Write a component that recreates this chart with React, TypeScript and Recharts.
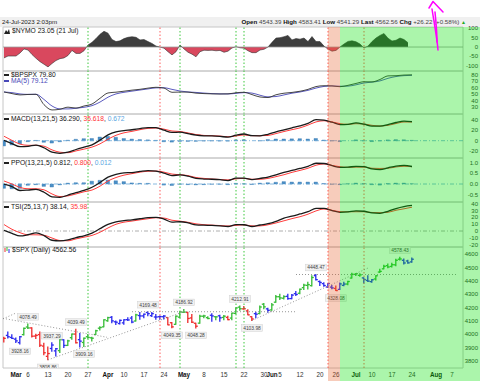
import React from 'react';
import {
  ComposedChart,
  Line,
  Area,
  Bar,
  Scatter,
  XAxis,
  YAxis,
  ReferenceLine,
  ReferenceArea,
} from 'recharts';

const FONT = '"Liberation Sans", Arial, sans-serif';
const W = 480;

// x is the trading-session index, 0 = 1 Mar 2023 (holidays skipped)
const X_MIN = -3.25;
const X_MAX = 111.75;
const PLOT_LEFT = 3;
const PLOT_W = 460;

const X_TICKS = [0, 3, 8, 13, 18, 23, 27, 32, 37, 42, 47, 52, 57, 62, 64, 66, 71, 76, 80, 85, 89, 94, 99, 105, 109];
const X_LABELS = ['Mar', '6', '13', '20', '27', 'Apr', '10', '17', '24', 'May', '8', '15', '22', '30', 'Jun', '5', '12', '20', '26', 'Jul', '10', '17', '24', 'Aug', '7'];
const MONTHS = ['Mar', 'Apr', 'May', 'Jun', 'Jul', 'Aug'];

// $NYMO, one value per session from index -3
const NYMO_START = -3;
const NYMO = [
  -58, -48, -48, -48, -32, -10, -16, -40, -60, -78,
  -92, -106, -88, -72, -62, -58, -45, -18, -34, -34,
  -20, 11, 25, 45, 68, 84, 74, 40, 29, 33,
  45, 52, 55, 52, 38, 40, 29, 19, 5, 0,
  -6, -25, -42, -25, 11, -10, -28, -38, -52, -25,
  -17, -18, -17, -20, -18, -28, -22, -5, 2, -4,
  -6, -20, -30, -30, -16, -12, 0, 25, 48, 50,
  55, 62, 38, 45, 42, 48, 29, 56, 29, 29,
  5, -11, -22, -18, 0, 16, 30, 33, 28, 16,
  -5, 5, 29, 48, 62, 72, 47, 32, 36, 48,
  40, 23,
];

// indicators, read every 2nd session from index -3
const IND_START = -3;
const IND_STEP = 2;
const BPSPX = [
  53.5, 51, 49, 49.7, 49.9, 34, 25.9, 27, 30.2, 28.8,
  32, 35, 43.8, 52, 53.2, 54.7, 56.3, 57.6, 59.4, 60.7,
  59.5, 53, 53.4, 53.3, 51.7, 51, 50.6, 50.4, 50.6, 52.3,
  53, 49.5, 45.8, 45, 49.2, 51.6, 52.8, 54.6, 57.5, 61.8,
  63.1, 62.8, 61.6, 63.7, 66.6, 69.2, 69, 72.7, 78.2, 78.5,
  79.5, 79.8,
];
const BPSPX_MA = [
  53.5, 52.5, 50.5, 49.8, 50, 42, 32, 27.5, 27.5, 28.5,
  30, 32.5, 38, 45.5, 50.5, 53, 54.8, 56.5, 58.2, 59.8,
  60, 57.5, 55, 53.5, 52.8, 51.8, 51, 50.6, 50.5, 51.4,
  52.5, 51.8, 48.5, 46, 46.5, 49, 51.6, 53.5, 56, 59.5,
  62, 62.8, 62.3, 62.5, 64.5, 67.3, 68.6, 70.5, 74.5, 77.2,
  78.6, 79.1,
];
const MACD = [
  0.5, -5.5, -11.3, -10.7, -8.3, -13.5, -22, -24, -22, -16.8,
  -12.3, -8, 1, 11, 16.8, 19.1, 20.9, 23.2, 25.1, 24.9,
  20, 15.8, 16.2, 13.5, 10.5, 9.3, 9, 8.1, 6.8, 10.5,
  12.8, 9.5, 9.2, 12.2, 16.8, 20.7, 24.5, 28.3, 33, 40,
  39.2, 35.3, 30.8, 31.2, 34, 31.5, 27.6, 27.6, 30.8, 34.7,
  37.3, 36.3,
];
const MACD_SIG = [
  8.5, 0.5, -6.5, -8.8, -8.8, -10.5, -17.5, -22, -22.9, -19.5,
  -16.1, -12.2, -6, 2.8, 10.3, 15, 17.8, 21, 23.5, 24.2,
  22, 18.5, 17.5, 14.8, 11.7, 10, 9.5, 8.8, 7.6, 9,
  11, 9.5, 9.5, 10, 13.6, 17.5, 21, 24.5, 29.8, 35.8,
  38, 35.9, 32.5, 31.2, 32.4, 31.8, 29.3, 28, 29.3, 32.7,
  35.6, 35.6,
];
const MACD_HIST = [
  -10, -8, -6, -1.9, 0.5, -3, -4.5, -2, 0.9, 2.7,
  3.8, 4.2, 7, 8.2, 6.5, 4.1, 3.1, 2.2, 1.6, 0.7,
  -2, -2.7, -1.3, -1.3, -1.2, -0.7, -0.5, -0.7, -0.8, 1.5,
  1.8, 0, -0.3, 2.2, 3.2, 3.2, 3.5, 3.8, 3.2, 4.2,
  1.2, -0.6, -1.7, 0, 1.6, -0.3, -1.7, -0.4, 1.5, 2,
  1.7, 0.7,
];
const PPO = [
  -0.01, -0.12, -0.3, -0.28, -0.25, -0.38, -0.6, -0.62, -0.51, -0.4,
  -0.3, -0.15, 0.07, 0.32, 0.45, 0.52, 0.53, 0.58, 0.62, 0.6,
  0.5, 0.39, 0.42, 0.36, 0.26, 0.23, 0.22, 0.2, 0.16, 0.27,
  0.27, 0.2, 0.26, 0.32, 0.42, 0.54, 0.63, 0.72, 0.82, 0.96,
  0.95, 0.85, 0.77, 0.78, 0.82, 0.8, 0.7, 0.67, 0.75, 0.83,
  0.86, 0.81,
];
const PPO_SIG = [
  0.14, 0, -0.16, -0.22, -0.22, -0.27, -0.46, -0.58, -0.55, -0.46,
  -0.36, -0.28, -0.1, 0.14, 0.3, 0.41, 0.48, 0.55, 0.59, 0.6,
  0.55, 0.46, 0.43, 0.39, 0.3, 0.26, 0.23, 0.21, 0.19, 0.24,
  0.26, 0.22, 0.22, 0.26, 0.34, 0.43, 0.54, 0.63, 0.73, 0.87,
  0.93, 0.86, 0.8, 0.77, 0.78, 0.78, 0.73, 0.72, 0.73, 0.79,
  0.82, 0.8,
];
const PPO_HIST = [
  -0.2, -0.22, -0.2, -0.06, -0.03, -0.11, -0.14, -0.04, 0.04, 0.06,
  0.06, 0.13, 0.17, 0.18, 0.15, 0.11, 0.05, 0.03, 0.03, 0,
  -0.05, -0.07, -0.01, -0.03, -0.04, -0.03, -0.01, -0.01, -0.03, 0.03,
  0.01, -0.02, 0.04, 0.06, 0.08, 0.11, 0.09, 0.09, 0.09, 0.09,
  0.02, -0.01, -0.03, 0.01, 0.04, 0.02, -0.03, -0.05, 0.02, 0.04,
  0.04, 0.01,
];
const TSI = [
  1, -3.4, -7.2, -5.5, -2.7, -6.7, -13.6, -14.6, -13, -9.6,
  -7, -3, 3.4, 9.8, 13.5, 15.2, 16.4, 18, 19.7, 20.1,
  17.5, 13, 13.6, 12, 9, 8.5, 8.2, 7.5, 6.6, 9.3,
  9.2, 6.6, 8.8, 10.7, 14.2, 18.9, 21.7, 25, 28.4, 33.2,
  33.2, 30, 27.5, 28, 29.5, 29, 26.5, 26, 29, 33,
  35.8, 37.5,
];
const TSI_SIG = [
  9.5, 2.5, -2.5, -5.5, -5.6, -6.3, -10.3, -14, -14.4, -11.6,
  -9.1, -6.5, -1.8, 4.5, 9.9, 13, 14.6, 16.4, 18, 19.5,
  19, 15.8, 14.5, 12.8, 10.5, 9.2, 8.6, 8, 7.3, 8.3,
  9, 7.5, 7.5, 9.1, 11.8, 15, 18.2, 21, 24.7, 29.5,
  32.3, 30.4, 28.4, 28.2, 28.3, 28.3, 27.2, 26.9, 27.5, 30.5,
  32.6, 35,
];

// $SPX daily [open, high, low, close] from index -3 (24 Feb)
const SPX_START = -3;
const SPX_OHLC = [
  [3973, 3978, 3943, 3970], [3992, 4018, 3973, 3982], [3977, 3997, 3968, 3970], [3964, 3972, 3939, 3951],
  [3938, 3984, 3928, 3982], [3998, 4048, 3995, 4045], [4055, 4078, 4044, 4048], [4048, 4050, 3980, 3986],
  [3987, 4000, 3969, 3992], [3998, 4017, 3909, 3918], [3912, 3934, 3847, 3862], [3835, 3906, 3809, 3856],
  [3894, 3937, 3874, 3920], [3876, 3894, 3838, 3892], [3878, 3964, 3864, 3960], [3959, 3959, 3901, 3917],
  [3917, 3956, 3916, 3951], [3975, 4003, 3964, 4002], [4002, 4039, 3936, 3937], [3960, 4007, 3906, 3949],
  [3939, 3973, 3909, 3971], [3982, 3999, 3970, 3977], [3974, 3979, 3951, 3971], [3999, 4030, 3999, 4027],
  [4046, 4057, 4033, 4051], [4056, 4110, 4056, 4109], [4102, 4128, 4098, 4125], [4128, 4134, 4086, 4101],
  [4094, 4100, 4074, 4091], [4081, 4108, 4077, 4105], [4086, 4110, 4076, 4109], [4110, 4124, 4103, 4108],
  [4122, 4134, 4086, 4092], [4100, 4150, 4100, 4146], [4141, 4164, 4114, 4138], [4138, 4152, 4124, 4151],
  [4164, 4169, 4140, 4155], [4140, 4163, 4134, 4155], [4130, 4148, 4114, 4130], [4132, 4138, 4113, 4133],
  [4132, 4142, 4115, 4137], [4126, 4126, 4072, 4071], [4087, 4089, 4049, 4056], [4075, 4138, 4075, 4136],
  [4129, 4170, 4127, 4169], [4166, 4187, 4164, 4167], [4164, 4165, 4089, 4119], [4123, 4148, 4088, 4091],
  [4083, 4083, 4048, 4061], [4084, 4143, 4084, 4136], [4136, 4143, 4124, 4138], [4125, 4131, 4116, 4119],
  [4143, 4154, 4098, 4138], [4132, 4132, 4109, 4131], [4139, 4143, 4099, 4124], [4127, 4141, 4110, 4136],
  [4127, 4136, 4109, 4110], [4122, 4159, 4109, 4159], [4157, 4198, 4154, 4198], [4204, 4213, 4180, 4192],
  [4191, 4209, 4188, 4192], [4176, 4185, 4146, 4146], [4132, 4132, 4104, 4115], [4155, 4166, 4124, 4151],
  [4156, 4213, 4155, 4205], [4226, 4231, 4192, 4206], [4191, 4195, 4166, 4180], [4183, 4232, 4181, 4221],
  [4241, 4291, 4241, 4282], [4282, 4300, 4262, 4273], [4271, 4289, 4264, 4283], [4285, 4300, 4263, 4268],
  [4268, 4299, 4266, 4294], [4305, 4322, 4291, 4299], [4308, 4340, 4304, 4338], [4350, 4375, 4337, 4369],
  [4367, 4391, 4340, 4373], [4365, 4439, 4363, 4426], [4440, 4448, 4407, 4410], [4396, 4400, 4367, 4389],
  [4380, 4387, 4360, 4366], [4355, 4382, 4351, 4381], [4354, 4366, 4341, 4348], [4344, 4363, 4328, 4328],
  [4337, 4385, 4336, 4378], [4367, 4390, 4365, 4377], [4377, 4398, 4372, 4396], [4422, 4458, 4422, 4450],
  [4450, 4456, 4442, 4455], [4442, 4454, 4436, 4446], [4423, 4423, 4385, 4411], [4404, 4440, 4397, 4399],
  [4395, 4412, 4390, 4409], [4415, 4440, 4408, 4439], [4467, 4488, 4463, 4472], [4491, 4517, 4491, 4510],
  [4515, 4528, 4499, 4505], [4509, 4532, 4504, 4522], [4521, 4563, 4514, 4555], [4563, 4578, 4557, 4565],
  [4555, 4565, 4527, 4535], [4550, 4556, 4532, 4536], [4543, 4572, 4541, 4563],
];
// impulse colour per bar: g = green, r = red, b = blue
const IMPULSE =
  'rbbbbggrrr' + 'rrbbgbggrb' + 'gggggggbbb' + 'bbbgbbbbbb' + 'brrgggrrrg' +
  'ggbgbgrggg' + 'rrrbggbggg' + 'gbbbggggbb' + 'bbbrbbgggg' + 'bbbggggggg' + 'bbb';

const PRICE_MARKS = [
  { i: 3, p: 4078.49, up: true }, { i: 1, p: 3928.16, up: false }, { i: 8, p: 3808.86, up: false },
  { i: 9, p: 3937.29, up: true }, { i: 15, p: 4039.49, up: true }, { i: 17, p: 3909.16, up: false },
  { i: 33, p: 4169.48, up: true }, { i: 39, p: 4049.35, up: false }, { i: 42, p: 4186.92, up: true },
  { i: 45, p: 4048.28, up: false }, { i: 56, p: 4212.91, up: true }, { i: 59, p: 4103.98, up: false },
  { i: 75, p: 4448.47, up: true }, { i: 80, p: 4328.08, up: false }, { i: 96, p: 4578.43, up: true },
];

// dotted trend lines [x1, y1, x2, y2]
const TREND_LINES = [
  [-3.25, 4120, 22.75, 3978],
  [-3.25, 4116, 0, 4160],
  [8, 3808.86, 42, 4170],
  [59, 4104, 88, 4497],
  [29, 4169.48, 70, 4169.48],
  [70, 4448.47, 110, 4448.47],
];

const VLINES = [
  { i: 18, c: 'g' }, { i: 36, c: 'r' }, { i: 41, c: 'g' }, { i: 55, c: 'g' },
  { i: 57, c: 'g' }, { i: 78, c: 'r' }, { i: 87, c: 'r' },
];
const WARN_FROM = 78;
const GO_FROM = 81;

const BAR_COLORS: Record<string, string> = { g: '#33bb33', r: '#ee2a2a', b: '#2828ee' };
const VLINE_COLORS: Record<string, string> = { g: '#3cc83c', r: '#ff5c5c' };

const nymoData = NYMO.map((v, k) => ({ i: NYMO_START + k, v }));
const indData = BPSPX.map((_, k) => ({
  i: IND_START + k * IND_STEP,
  bp: BPSPX[k],
  ma: BPSPX_MA[k],
  macd: MACD[k],
  sig: MACD_SIG[k],
  hist: MACD_HIST[k],
  ppo: PPO[k],
  psig: PPO_SIG[k],
  phist: PPO_HIST[k],
  tsi: TSI[k],
  tsig: TSI_SIG[k],
}));
const spxData = SPX_OHLC.map(([o, h, l, c], k) => ({
  i: SPX_START + k, o, h, l, c, range: [l, h], col: IMPULSE[k],
}));

const nymoMax = Math.max(...NYMO);
const nymoMin = Math.min(...NYMO);
const nymoSplit = nymoMax / (nymoMax - nymoMin);

const xPx = (i: number) => PLOT_LEFT + ((i - X_MIN) / (X_MAX - X_MIN)) * PLOT_W;

const xAxis = () => (
  <XAxis key="x" type="number" dataKey="i" domain={[X_MIN, X_MAX]} allowDataOverflow hide />
);

const yAxis = (domain: number[], ticks: number[], fmt = (v: number) => String(v)) => (
  <YAxis
    key="y"
    orientation="right"
    width={17}
    domain={domain}
    ticks={ticks}
    interval={0}
    allowDataOverflow
    axisLine={false}
    tickLine={false}
    tickSize={0}
    tickMargin={0}
    tick={(p: any) => (
      <text x={p.x + 15} y={p.y} dy={2.1} textAnchor="end" fontSize={6} fontFamily={FONT} fill="#333">
        {fmt(p.payload.value)}
      </text>
    )}
  />
);

const border = (domain: number[]) => (
  <ReferenceArea
    key="border"
    x1={X_MIN}
    x2={X_MAX}
    y1={domain[0]}
    y2={domain[1]}
    fill="none"
    stroke="#c6c6c6"
    strokeWidth={1}
    ifOverflow="visible"
  />
);

const markerLines = () =>
  VLINES.map((v, k) => (
    <ReferenceLine
      key={'vl' + k}
      x={v.i}
      stroke={VLINE_COLORS[v.c]}
      strokeDasharray="1.5 2"
      strokeWidth={1}
      ifOverflow="visible"
    />
  ));

const OhlcBar = (props: any) => {
  const { x, y, width, height, payload } = props;
  if (x == null || y == null) return null;
  const top = Math.min(y, y + height);
  const h = Math.abs(height);
  const span = payload.h - payload.l || 1;
  const yo = top + ((payload.h - payload.o) / span) * h;
  const yc = top + ((payload.h - payload.c) / span) * h;
  const cx = x + width / 2;
  return (
    <g stroke={BAR_COLORS[payload.col]} strokeWidth={1.3}>
      <line x1={cx} x2={cx} y1={top - 0.5} y2={top + h + 0.5} />
      <line x1={cx - 2} x2={cx} y1={yo} y2={yo} />
      <line x1={cx} x2={cx + 2} y1={yc} y2={yc} />
    </g>
  );
};

const PriceTag = (props: any) => {
  const { cx, cy, payload } = props;
  if (cx == null || cy == null) return null;
  const text = payload.p.toFixed(2);
  const w = text.length * 2.55 + 3;
  const cyy = payload.up ? cy - 7 : cy + 7.5;
  return (
    <g>
      <rect x={cx - w / 2} y={cyy - 3.3} width={w} height={6.6} fill="#f1f1f1" stroke="#cfcfcf" strokeWidth={0.5} />
      <text x={cx} y={cyy + 1.8} textAnchor="middle" fontSize={4.9} fontFamily={FONT} fill="#444">
        {text}
      </text>
    </g>
  );
};

const Dash = ({ color }: { color: string }) => (
  <span style={{ display: 'inline-block', width: 5, height: 1.5, background: color, verticalAlign: 'middle', marginRight: 2 }} />
);

const legendStyle = (top: number): React.CSSProperties => ({
  position: 'absolute',
  left: 4,
  top,
  fontSize: 6.7,
  lineHeight: '8px',
  whiteSpace: 'nowrap',
  color: '#111',
});

const P1 = [-128, 107];
const P2 = [19.7, 85.7];
const P3 = [-33, 50.9];
const P4 = [-0.833, 1.204];
const P5 = [-23.5, 42.6];
const P6 = [3747.7, 4654.7];

const margin = { top: 0, right: 0, bottom: 0, left: PLOT_LEFT };

export default function App() {
  return (
    <div style={{ position: 'relative', width: W, height: 381, overflow: 'hidden', background: '#fff', fontFamily: FONT }}>
      <style>{'body{margin:0} .recharts-surface{overflow:visible}'}</style>

      {/* header */}
      <div style={{ position: 'absolute', left: 0, top: 17, width: W, height: 10, background: '#f0f0f0' }} />
      <div style={{ position: 'absolute', left: 2, top: 18, fontSize: 6.2, lineHeight: '8px', color: '#222' }}>
        24-Jul-2023 2:03pm
      </div>
      <div style={{ position: 'absolute', right: 14, top: 18, fontSize: 6.2, lineHeight: '8px', color: '#444', whiteSpace: 'nowrap' }}>
        <b style={{ color: '#111' }}>Open</b> 4543.39 <b style={{ color: '#111' }}>High</b> 4583.41{' '}
        <b style={{ color: '#111' }}>Low</b> 4541.29 <b style={{ color: '#111' }}>Last</b> 4562.56{' '}
        <b style={{ color: '#111' }}>Chg</b> +26.22 (+0.58%) <span style={{ color: '#22aa22', fontSize: 5 }}>▲</span>
      </div>

      {/* $NYMO */}
      <div style={{ position: 'absolute', left: 0, top: 27 }}>
        <ComposedChart width={W} height={44} data={nymoData} margin={margin}>
          <defs>
            <linearGradient id="nymoFill" x1="0" y1="0" x2="0" y2="1">
              <stop offset={nymoSplit} stopColor="#3e3e3e" />
              <stop offset={nymoSplit} stopColor="#d9485e" />
            </linearGradient>
          </defs>
          {xAxis()}
          {yAxis(P1, [100, 50, 0, -50, -100])}
          {border(P1)}
          <Area
            dataKey="v"
            type="linear"
            baseValue={0}
            stroke="#333"
            strokeWidth={0.6}
            fill="url(#nymoFill)"
            fillOpacity={1}
            isAnimationActive={false}
            dot={false}
            activeDot={false}
          />
          <ReferenceLine y={0} stroke="#9a9a9a" strokeWidth={0.8} />
          {markerLines()}
        </ComposedChart>
      </div>

      {/* $BPSPX */}
      <div style={{ position: 'absolute', left: 0, top: 71 }}>
        <ComposedChart width={W} height={43} data={indData} margin={margin}>
          {xAxis()}
          {yAxis(P2, [80, 70, 60, 50, 40, 30])}
          {border(P2)}
          {markerLines()}
          <Line dataKey="ma" type="monotone" stroke="#4848b8" strokeWidth={0.9} dot={false} isAnimationActive={false} />
          <Line dataKey="bp" type="monotone" stroke="#333" strokeWidth={0.9} dot={false} isAnimationActive={false} />
        </ComposedChart>
      </div>

      {/* MACD */}
      <div style={{ position: 'absolute', left: 0, top: 114 }}>
        <ComposedChart width={W} height={44} data={indData} margin={margin}>
          {xAxis()}
          {yAxis(P3, [40, 20, 0, -20])}
          {border(P3)}
          {markerLines()}
          <ReferenceLine y={0} stroke="#6aa8d8" strokeDasharray="4 2 1 2" strokeWidth={0.8} />
          <Bar dataKey="hist" barSize={3.5} fill="#4b8fc6" stroke="#3a7cb4" strokeWidth={0.4} isAnimationActive={false} />
          <Line dataKey="sig" type="monotone" stroke="#ff3d3d" strokeWidth={1} dot={false} isAnimationActive={false} />
          <Line dataKey="macd" type="monotone" stroke="#1a1a1a" strokeWidth={1.3} dot={false} isAnimationActive={false} />
        </ComposedChart>
      </div>

      {/* PPO */}
      <div style={{ position: 'absolute', left: 0, top: 158 }}>
        <ComposedChart width={W} height={44} data={indData} margin={margin}>
          {xAxis()}
          {yAxis(P4, [1, 0.5, 0, -0.5], (v) => v.toFixed(1))}
          {border(P4)}
          {markerLines()}
          <ReferenceLine y={0} stroke="#6aa8d8" strokeDasharray="4 2 1 2" strokeWidth={0.8} />
          <Bar dataKey="phist" barSize={3.5} fill="#4b8fc6" stroke="#3a7cb4" strokeWidth={0.4} isAnimationActive={false} />
          <Line dataKey="psig" type="monotone" stroke="#ff3d3d" strokeWidth={1} dot={false} isAnimationActive={false} />
          <Line dataKey="ppo" type="monotone" stroke="#1a1a1a" strokeWidth={1.3} dot={false} isAnimationActive={false} />
        </ComposedChart>
      </div>

      {/* TSI */}
      <div style={{ position: 'absolute', left: 0, top: 202 }}>
        <ComposedChart width={W} height={45} data={indData} margin={margin}>
          {xAxis()}
          {yAxis(P5, [40, 30, 20, 10, 0, -10, -20])}
          {border(P5)}
          {markerLines()}
          <ReferenceLine y={0} stroke="#999" strokeDasharray="4 2 1 2" strokeWidth={0.8} />
          <Line dataKey="tsig" type="monotone" stroke="#ff3d3d" strokeWidth={1} dot={false} isAnimationActive={false} />
          <Line dataKey="tsi" type="monotone" stroke="#1a1a1a" strokeWidth={1.3} dot={false} isAnimationActive={false} />
        </ComposedChart>
      </div>

      {/* $SPX */}
      <div style={{ position: 'absolute', left: 0, top: 247 }}>
        <ComposedChart width={W} height={134} data={spxData} margin={margin}>
          <XAxis
            type="number"
            dataKey="i"
            domain={[X_MIN, X_MAX]}
            allowDataOverflow
            ticks={X_TICKS}
            interval={0}
            height={13}
            axisLine={false}
            tickLine={false}
            tickSize={0}
            tickMargin={0}
            tick={(p: any) => {
              const label = X_LABELS[X_TICKS.indexOf(p.payload.value)];
              const isMonth = MONTHS.includes(label);
              return (
                <text
                  x={p.x}
                  y={p.y}
                  dy={9}
                  textAnchor="middle"
                  fontSize={6.3}
                  fontFamily={FONT}
                  fontWeight={isMonth ? 'bold' : 'normal'}
                  fill={isMonth ? '#111' : '#333'}
                >
                  {label}
                </text>
              );
            }}
          />
          {yAxis(P6, [4600, 4500, 4400, 4300, 4200, 4100, 4000, 3900, 3800])}
          {border(P6)}
          {markerLines()}
          {TREND_LINES.map(([x1, y1, x2, y2], k) => (
            <ReferenceLine
              key={'tl' + k}
              segment={[{ x: x1, y: y1 }, { x: x2, y: y2 }]}
              stroke="#8a8a8a"
              strokeDasharray="1 2"
              strokeWidth={0.9}
              ifOverflow="visible"
            />
          ))}
          <Bar dataKey="range" barSize={4} shape={OhlcBar} isAnimationActive={false} />
          <Scatter data={PRICE_MARKS} dataKey="p" shape={PriceTag} isAnimationActive={false} />
        </ComposedChart>
      </div>

      {/* panel legends */}
      <div style={legendStyle(27)}>
        <svg width={6} height={5} style={{ marginRight: 2, verticalAlign: 'middle' }}>
          <polygon points="0,5 2,1 3.5,3 5,0 6,5" fill="#222" />
        </svg>
        $NYMO 23.05 (21 Jul)
      </div>
      <div style={legendStyle(71)}>
        <Dash color="#222" />$BPSPX 79.80
      </div>
      <div style={{ ...legendStyle(77), color: '#4848b8' }}>
        <Dash color="#4848b8" />MA(5) 79.12
      </div>
      <div style={legendStyle(115)}>
        <Dash color="#222" />MACD(13,21,5) 36.290, <span style={{ color: '#ff3333' }}>35.618</span>,{' '}
        <span style={{ color: '#5aa6e2' }}>0.672</span>
      </div>
      <div style={legendStyle(159)}>
        <Dash color="#222" />PPO(13,21,5) 0.812, <span style={{ color: '#ff3333' }}>0.800</span>,{' '}
        <span style={{ color: '#5aa6e2' }}>0.012</span>
      </div>
      <div style={legendStyle(203)}>
        <Dash color="#222" />TSI(25,13,7) 38.14, <span style={{ color: '#ff3333' }}>35.98</span>
      </div>
      <div style={legendStyle(246)}>
        <svg width={6} height={6} style={{ marginRight: 2, verticalAlign: 'middle' }}>
          <line x1={1} x2={1} y1={1} y2={5} stroke="#ee2a2a" />
          <line x1={3} x2={3} y1={0} y2={4} stroke="#33bb33" />
          <line x1={5} x2={5} y1={2} y2={6} stroke="#2828ee" />
        </svg>
        $SPX (Daily) 4562.56
      </div>

      {/* highlighted periods */}
      <div
        style={{
          position: 'absolute', top: 27, bottom: 0, left: xPx(WARN_FROM), width: xPx(GO_FROM) - xPx(WARN_FROM),
          background: 'rgba(230, 95, 45, 0.32)', pointerEvents: 'none',
        }}
      />
      <div
        style={{
          position: 'absolute', top: 27, bottom: 0, left: xPx(GO_FROM), right: 0,
          background: 'rgba(0, 225, 0, 0.33)', pointerEvents: 'none',
        }}
      />

      {/* hand-drawn arrow */}
      <svg width={W} height={60} style={{ position: 'absolute', left: 0, top: 0, pointerEvents: 'none' }}>
        <g fill="none" stroke="#ff00ff" strokeWidth={1.5} strokeLinecap="round" strokeLinejoin="round">
          <path d="M438 50 C437 38 434 22 432 9" />
          <path d="M435 12 C436 22 437 32 437 42" />
          <path d="M429 8 L433 1.5 L443 12" />
        </g>
      </svg>
    </div>
  );
}
